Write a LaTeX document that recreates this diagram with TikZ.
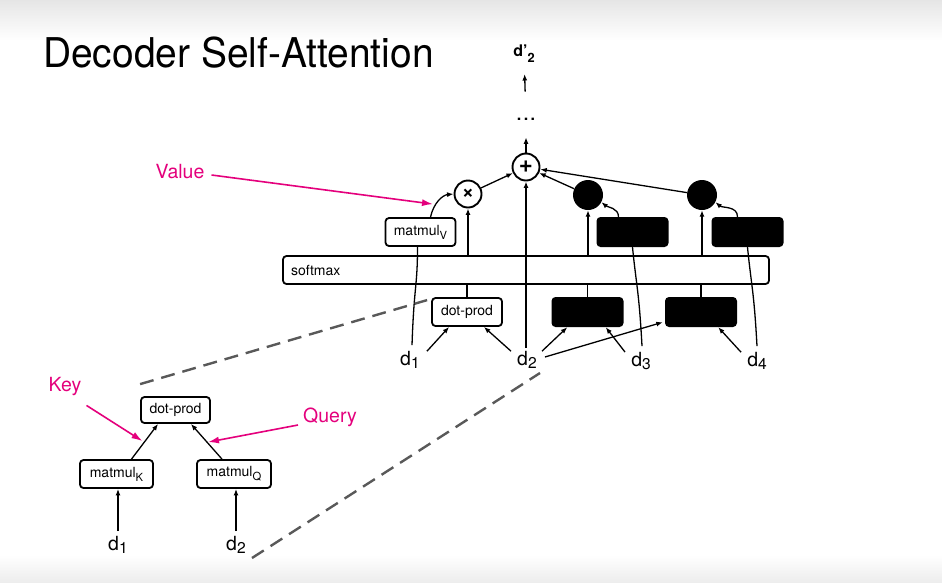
\documentclass[tikz,border=0pt]{standalone}
\usepackage{fontspec}
\setmainfont{TeX Gyre Heros}
\usetikzlibrary{arrows.meta}
\definecolor{keypink}{RGB}{228,0,124}
\newcommand\low[2][2pt]{\raisebox{-#1}{\scalebox{0.8}{#2}}}
\tikzset{
  box/.style={draw, line width=1.8pt, rounded corners=3.5pt, fill=white, inner sep=3pt,
    minimum width=70pt, minimum height=28pt, font=\fontsize{14}{16}\selectfont},
  hidden/.style={fill=black, rounded corners=4pt, minimum width=72pt, minimum height=30pt},
  op/.style={circle, draw, line width=1.9pt, fill=white, minimum size=27pt, inner sep=0pt},
  blob/.style={circle, fill=black, minimum size=30pt, inner sep=0pt},
  word/.style={font=\fontsize{19.5}{22}\selectfont, inner sep=0pt},
  small/.style={font={\bfseries\fontsize{16}{18}\selectfont}, inner sep=0pt},
  pinklabel/.style={word, text=keypink},
  arr/.style={-{Latex[length=6.5pt,width=5pt]}, line width=1.3pt},
  pinkarr/.style={-{Latex[length=11pt,width=7pt]}, line width=1.6pt, draw=keypink},
  zoomline/.style={dash pattern=on 14pt off 8pt, line width=2.4pt, draw=black!65},
}
\begin{document}
\begin{tikzpicture}[x=1pt, y=-1pt]
  \useasboundingbox (0,0) rectangle (942,582);
  \shade[top color=black!10, bottom color=white] (0,0) rectangle (942,40);
  \shade[top color=white, bottom color=black!7] (0,555) rectangle (942,582);

  \node[anchor=west, font=\fontsize{41}{44}\selectfont, inner sep=0pt] (title) at (43,53)
    {\scalebox{0.95}[1]{Decoder Self-Attention}};

  % main picture
  \node[box, minimum width=486pt, text width=470pt, align=left] (soft) at (526,270) {softmax};
  \node[box] (mV) at (420.5,232) {matmul\low[4pt]{V}};
  \node[box] (dp) at (467,312) {dot-prod};
  \node[hidden] (bx1) at (632.5,232) {};
  \node[hidden] (bx2) at (747.5,232) {};
  \node[hidden] (bx3) at (587.5,312) {};
  \node[hidden] (bx4) at (701,312) {};
  \node[op] (times) at (468,194) {\fontsize{21}{21}\selectfont\textbf{×}};
  \node[op] (plus) at (526,167) {\fontsize{24}{24}\selectfont\textbf{+}};
  \node[blob] (c1) at (588,195) {};
  \node[blob] (c2) at (702,195) {};
  \node[small] (dots) at (526,119) {.\hspace{2.5pt}.\hspace{2.5pt}.};
  \node[small] (dout) at (524,54) {d’\low[6pt]{2}};
  \node[word] (d1) at (410,360) {d\low[3pt]{1}};
  \node[word] (d2) at (527,360) {d\low[3pt]{2}};
  \node[word] (d3) at (641,361) {d\low[3pt]{3}};
  \node[word] (d4) at (757,361) {d\low[3pt]{4}};

  \draw[arr, shorten >=17pt] (plus) -- (dots);
  \draw[arr, shorten <=26pt, shorten >=11pt] (dots) -- (dout);
  \draw[arr] (times) -- (plus);
  \draw[arr] (c1) -- (plus);
  \draw[arr] (c2) -- (plus);
  \draw[arr] (times.south |- soft.north) -- (times.south);
  \draw[arr] (c1.south |- soft.north) -- (c1.south);
  \draw[arr] (c2.south |- soft.north) -- (c2.south);
  \draw[line width=1.3pt] (dp.north) -- (dp.north |- soft.south);
  \draw[line width=1.3pt] (bx3.north) -- (bx3.north |- soft.south);
  \draw[line width=1.3pt] (bx4.north) -- (bx4.north |- soft.south);
  \draw[arr] ([yshift=3pt]plus.south |- d2.north) -- (plus.south);

  \draw[arr] ([xshift=7pt]d1.north east) -- ([xshift=18pt]dp.south west);
  \draw[arr] ([xshift=-6pt]d2.north west) -- ([xshift=-19pt]dp.south east);
  \draw[arr] ([xshift=5pt]d2.north east) -- ([xshift=16pt]bx3.south west);
  \draw[arr] ([shift={(8pt,3pt)}]d2.east) -- ([shift={(-2pt,5pt)}]bx4.south west);
  \draw[arr] ([xshift=-6pt]d3.north west) -- ([xshift=-18pt]bx3.south east);
  \draw[arr] ([xshift=-6pt]d4.north west) -- ([xshift=-19pt]bx4.south east);

  \draw[line width=1.3pt] ([shift={(2pt,6pt)}]d1.north) .. controls +(2,-60) and +(0,40) .. ([xshift=-3pt]mV.south);
  \draw[arr] ([xshift=10pt]mV.north) .. controls +(3,-14) and +(-11,1) .. (times.west);
  \draw[line width=1.3pt] ([shift={(1pt,6pt)}]d3.north) .. controls +(-3,-55) and +(4,40) .. (bx1.south);
  \draw[arr] ([xshift=-14pt]bx1.north) .. controls +(0,-9) and +(6,5) .. (c1.-28);
  \draw[line width=1.3pt] ([shift={(0pt,6pt)}]d4.north) .. controls +(-3,-55) and +(4,40) .. (bx2.south);
  \draw[arr] ([xshift=-10pt]bx2.north) .. controls +(0,-11) and +(7,6) .. (c2.-28);

  % zoomed dot-prod
  \node[box, minimum width=69pt, minimum height=26pt] (idp) at (175.5,410) {dot-prod};
  \node[box, minimum width=73pt] (mK) at (116.5,474) {matmul\low[4pt]{K}};
  \node[box, minimum width=74pt] (mQ) at (234,474) {matmul\low[4pt]{Q}};
  \node[word] (id1) at (118,545) {d\low[3pt]{1}};
  \node[word] (id2) at (236,545) {d\low[3pt]{2}};

  \draw[arr] ([yshift=5pt]id1.north) -- (id1.north |- mK.south);
  \draw[arr] ([yshift=5pt]id2.north) -- (id2.north |- mQ.south);
  \draw[arr] ([xshift=15pt]mK.north) -- ([xshift=18pt]idp.south west);
  \draw[arr] ([xshift=-12pt]mQ.north) -- ([xshift=-20pt]idp.south east);

  \coordinate (zA) at (252,558);
  \coordinate (zB) at (540,373);
  \draw[zoomline] ([yshift=12pt]idp.north west) -- ([shift={(-4pt,-3pt)}]dp.north west);
  \draw[zoomline] (zA) -- (zB);

  % labels
  \node[pinklabel] (value) at (180,172) {Value};
  \node[pinklabel] (key) at (65,387) {Key};
  \node[pinklabel] (query) at (330,417) {Query};
  \draw[pinkarr] ([shift={(7pt,-3pt)}]value.east) -- ([shift={(12.5pt,13pt)}]mV.north);
  \draw[pinkarr] ([shift={(5pt,-9pt)}]key.south east) -- ([shift={(26pt,18pt)}]mK.north);
  \draw[pinkarr] ([shift={(-5pt,-8pt)}]query.west) -- ([shift={(-26pt,17pt)}]mQ.north);
\end{tikzpicture}
\end{document}
